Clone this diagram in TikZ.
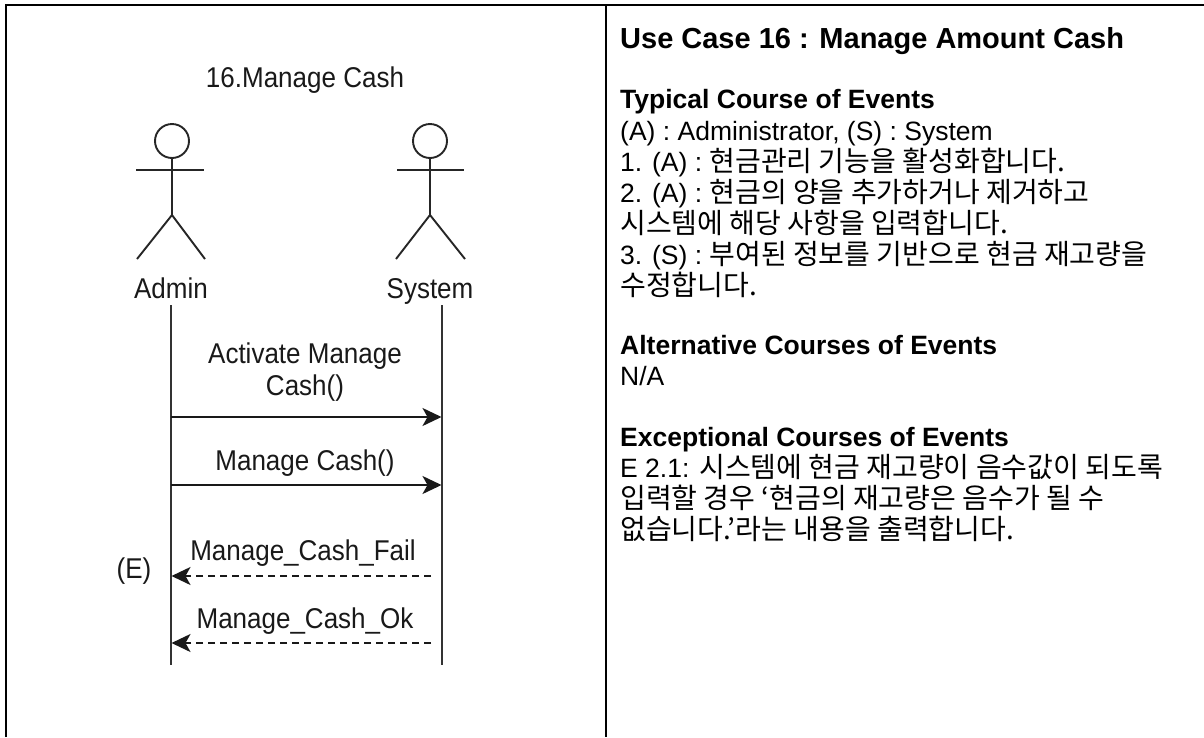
\documentclass[tikz,border=0pt]{standalone}
\usepackage{graphicx}
\usepackage{fontspec}
\setmainfont{Liberation Sans}
\newfontfamily\kr[Scale=1.058]{Noto Sans CJK KR}
\usetikzlibrary{arrows.meta}
\newcommand\tallt[1]{\scalebox{1}[1.1]{#1}}
\begin{document}
\begin{tikzpicture}[x=1pt,y=-1pt,
  frame/.style={line width=2.2pt, black},
  actorline/.style={line width=1.9pt, black!85},
  lifeline/.style={line width=2pt, black!80},
  msg/.style={line width=1.9pt, black!90, -{Stealth[length=19pt,width=18pt,inset=5pt]}},
  ret/.style={msg, dash pattern=on 7pt off 5pt},
  dlbl/.style={inner sep=0pt, anchor=base, font=\fontsize{26}{32}\selectfont, text=black!90},
  ttl/.style={inner sep=0pt, anchor=base west, font=\fontsize{29}{34}\selectfont\bfseries},
  hdr/.style={inner sep=0pt, anchor=base west, font=\fontsize{26.5}{31}\selectfont\bfseries},
  body/.style={inner sep=0pt, anchor=base west, font=\fontsize{26.5}{31}\selectfont},
]
\useasboundingbox (0,0) rectangle (1204,737);
\fill[white] (0,0) rectangle (1204,737);
% frame
\coordinate (tl) at (6,5);
\coordinate (tr) at (1204,5);
\coordinate (bl) at (6,737);
\coordinate (tm) at (606,5);
\coordinate (bm) at (606,737);
\draw[frame] (bl) -- (tl) -- (tr);
\draw[frame] (tm) -- (bm);

% diagram title
\node[dlbl] (dtitle) at (305,87) {\tallt{16.Manage Cash}};

% Admin actor
\node[draw, circle, actorline, minimum size=34pt, inner sep=0pt] (ahead) at (172,141) {};
\coordinate (ahip) at (172,215);
\coordinate (aarmL) at (136,170);
\coordinate (aarmR) at (204,170);
\coordinate (alegL) at (137,259);
\coordinate (alegR) at (205,259);
\draw[actorline] (ahead.south) -- (ahip);
\draw[actorline] (aarmL) -- (aarmR);
\draw[actorline] (alegL) -- (ahip) -- (alegR);
\node[dlbl] (aname) at (171,298) {\tallt{Admin}};

% System actor
\node[draw, circle, actorline, minimum size=34pt, inner sep=0pt] (shead) at (430,141) {};
\coordinate (ship) at (430,215);
\coordinate (sarmL) at (397,170);
\coordinate (sarmR) at (464,170);
\coordinate (slegL) at (396,259);
\coordinate (slegR) at (465,259);
\draw[actorline] (shead.south) -- (ship);
\draw[actorline] (sarmL) -- (sarmR);
\draw[actorline] (slegL) -- (ship) -- (slegR);
\node[dlbl] (sname) at (430,298) {\tallt{System}};

% lifelines
\coordinate (atop) at (170.5,305);
\coordinate (abot) at (170.5,665);
\coordinate (stop) at (441.5,305);
\coordinate (sbot) at (441.5,665);
\draw[lifeline] (atop) -- (abot);
\draw[lifeline] (stop) -- (sbot);

% messages
\node[dlbl] (m1a) at (305,363) {\tallt{Activate Manage}};
\node[dlbl] (m1b) at (305,395) {\tallt{Cash()}};
\coordinate (a1) at (170.5,417);
\coordinate (s1) at (441.5,417);
\draw[msg] (a1) -- (s1);

\node[dlbl] (m2) at (305,470) {\tallt{Manage Cash()}};
\coordinate (a2) at (170.5,485);
\coordinate (s2) at (441.5,485);
\draw[msg] (a2) -- (s2);

\node[dlbl] (m3) at (303,560) {\tallt{Manage\_Cash\_Fail}};
\node[dlbl] (exc) at (134,578) {\tallt{(E)}};
\coordinate (s3) at (431,576);
\coordinate (a3) at (171.5,576);
\draw[ret] (s3) -- (a3);

\node[dlbl] (m4) at (305,628) {\tallt{Manage\_Cash\_Ok}};
\coordinate (s4) at (431,643);
\coordinate (a4) at (171.5,643);
\draw[ret] (s4) -- (a4);

% right panel text
\node[ttl] (uc) at (620,48) {Use Case 16 : Manage Amount Cash};
\node[hdr] (h1) at (620,108) {Typical Course of Events};
\node[body] (t0) at (620,140) {(A) : Administrator, (S) : System};
\node[body] (t1) at (620,171) {1. (A) : {\kr 현금관리 기능을 활성화합니다.}};
\node[body] (t2) at (620,202) {2. (A) : {\kr 현금의 양을 추가하거나 제거하고}};
\node[body] (t3) at (620,233) {{\kr 시스템에 해당 사항을 입력합니다.}};
\node[body] (t4) at (620,264) {3. (S) : {\kr 부여된 정보를 기반으로 현금 재고량을}};
\node[body] (t5) at (620,295) {{\kr 수정합니다.}};
\node[hdr] (h2) at (620,354) {Alternative Courses of Events};
\node[body] (t6) at (620,385) {N/A};
\node[hdr] (h3) at (620,446) {Exceptional Courses of Events};
\node[body] (t7) at (620,477) {E 2.1: {\kr 시스템에 현금 재고량이 음수값이 되도록}};
\node[body] (t8) at (620,508) {{\kr 입력할 경우 ‘현금의 재고량은 음수가 될 수}};
\node[body] (t9) at (620,539) {{\kr 없습니다.’라는 내용을 출력합니다.}};
\end{tikzpicture}
\end{document}
